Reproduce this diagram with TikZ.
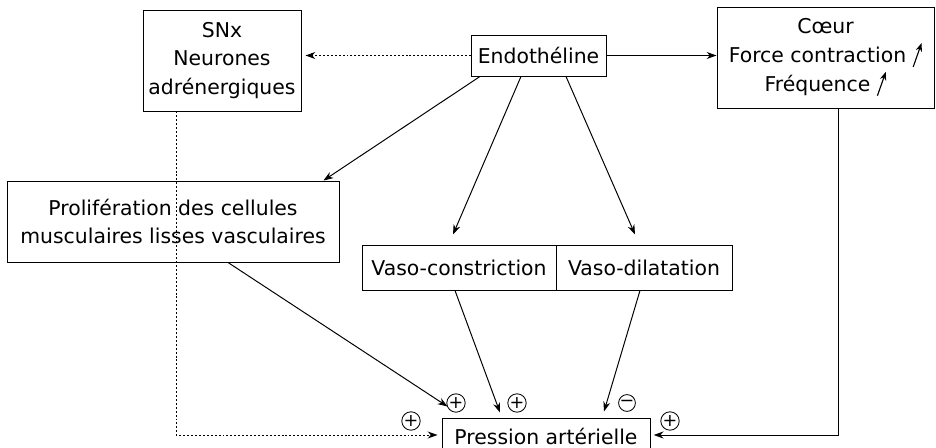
\documentclass[tikz,border=0pt]{standalone}
\usepackage{fontspec}
\setmainfont{DejaVu Sans}
\usetikzlibrary{arrows.meta}

% petite fleche de hausse
\newcommand{\hausse}{\tikz[baseline=0pt]\draw[line width=0.8pt,-{Stealth[length=6pt,width=4.5pt]}] (0pt,-3pt) -- (6pt,14pt);}

\tikzset{
  boite/.style={draw, line width=0.7pt, align=center, inner sep=2pt},
  fleche/.style={-{Stealth[length=7pt,width=5pt]}, line width=0.7pt},
  pointille/.style={fleche, dash pattern=on 1.4pt off 1.4pt},
  signe/.style={draw, circle, line width=0.6pt, minimum size=0.42cm, inner sep=0pt, font=\fontsize{12.5}{12.5}\selectfont}
}

\begin{document}
\begin{tikzpicture}[font=\fontsize{14.5}{20.5}\selectfont]
  \useasboundingbox (0,0) rectangle (23.4,11.2);

  % Les boites
  \node[boite, minimum width=3.95cm, minimum height=2.525cm] (snx) at (5.55,9.6875) {SNx\\Neurones\\adrénergiques};
  \node[boite, minimum width=3.375cm, minimum height=1.025cm] (endo) at (13.4625,9.8125) {Endothéline};
  \node[boite, minimum width=5.425cm, minimum height=2.525cm] (coeur) at (20.6375,9.7625) {Cœur\\Force contraction \hausse\\Fréquence \hausse};
  \node[boite, minimum width=8.3cm, minimum height=2.025cm] (prolif) at (4.325,5.6625) {Prolifération des cellules\\musculaires lisses vasculaires};
  \node[boite, minimum width=4.85cm, minimum height=1.125cm] (vc) at (11.475,4.5125) {Vaso-constriction};
  \node[boite, minimum width=4.4cm, minimum height=1.125cm] (vd) at (16.1,4.5125) {Vaso-dilatation};
  \node[boite, minimum width=5.2cm, minimum height=0.9cm] (pression) at (13.65,0.3) {Pression artérielle};

  % Depuis l'endotheline
  \draw[pointille, shorten >=0.1cm] (endo.west) -- (endo.west -| snx.east);
  \draw[fleche] (endo.east) -- (endo.east -| coeur.west);
  \draw[fleche] ([xshift=-1.4625cm]endo.south) -- ([xshift=-0.4cm]prolif.north east);
  \draw[fleche] ([xshift=-0.4375cm]endo.south) -- ([shift={(-0.15cm,0.25cm)}]vc.north);
  \draw[fleche] ([xshift=0.6875cm]endo.south) -- ([shift={(-0.225cm,0.25cm)}]vd.north);

  % Vers la pression arterielle
  \draw[fleche] ([xshift=1.375cm]prolif.south) -- ([shift={(0.15cm,0.275cm)}]pression.north west);
  \draw[fleche] ([xshift=-0.1cm]vc.south) -- ([shift={(-1.15cm,0.125cm)}]pression.north);
  \draw[fleche] ([xshift=-0.1cm]vd.south) -- ([shift={(1.45cm,0.15cm)}]pression.north);
  \draw[pointille, shorten >=0.1cm] ([xshift=-1.15cm]snx.south) |- ([yshift=0.025cm]pression.west);
  \draw[fleche, shorten >=0.08cm] ([xshift=0.3125cm]coeur.south) |- ([yshift=0.025cm]pression.east);

  % Effets
  \node[signe] (plus1) at (11.4,1.125) {+};
  \node[signe] (plus2) at (12.925,1.125) {+};
  \node[signe] (moins) at (15.675,1.125) {−};
  \node[signe] (plus3) at (10.275,0.675) {+};
  \node[signe] (plus4) at (16.75,0.675) {+};
\end{tikzpicture}
\end{document}
